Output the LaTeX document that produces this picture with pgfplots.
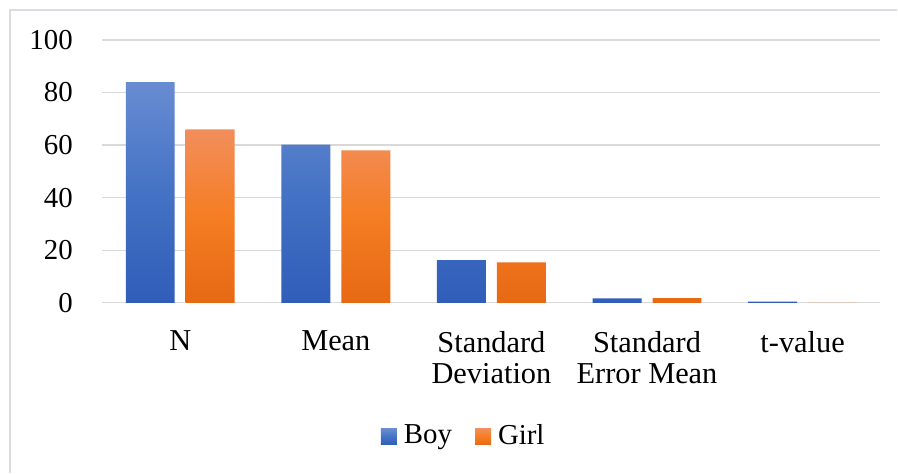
\documentclass[border=0pt]{standalone}
\usepackage{fontspec}
\setmainfont{Liberation Serif}
\usepackage{pgfplots}
\pgfplotsset{compat=1.18}
\definecolor{boyTop}{RGB}{104,140,210}
\definecolor{boyMid}{RGB}{68,114,196}
\definecolor{boyBot}{RGB}{47,93,185}
\definecolor{girlTop}{RGB}{242,142,92}
\definecolor{girlMid}{RGB}{245,125,35}
\definecolor{girlBot}{RGB}{230,105,20}
\definecolor{gridc}{RGB}{217,217,217}
\definecolor{framec}{RGB}{217,220,225}
\begin{document}
\fontsize{29}{32}\selectfont
\begin{tikzpicture}
\path[fill=white] (0,0) rectangle (898bp,473bp);
\draw[framec, line width=1.2bp] (10bp,0) -- (10bp,463bp) -- (898bp,463bp);
\begin{axis}[
  at={(102.5bp,170bp)}, anchor=south west,
  scale only axis, width=778.5bp, height=263bp,
  xmin=-0.5, xmax=4.5, ymin=0, ymax=100,
  ytick={0,20,40,60,80,100},
  xtick={0,1,2,3,4},
  xticklabels={N,Mean,Standard\\Deviation,Standard\\Error Mean,t-value},
  xticklabel style={align=center, anchor=north, inner sep=0pt, yshift=-28bp, font=\fontsize{30.5}{32}\selectfont},
  yticklabel style={anchor=east, inner sep=0pt, xshift=-29.5bp, font=\fontsize{29}{32}\selectfont},
  /pgf/number format/assume math mode=true,
  axis line style={draw=none},
  major tick length=0pt,
  ymajorgrids, major grid style={gridc, line width=1.4bp},
  legend style={at={(0.4644,-0.5095)}, anchor=center, draw=none, fill=none,
    legend columns=2, font=\fontsize{29}{32}\selectfont,
    /tikz/every odd column/.append style={column sep=0bp},
    /tikz/every even column/.append style={column sep=21bp}},
  legend image code/.code={\path[#1] (0bp,-8bp) rectangle (16bp,8bp); \path (21bp,0bp);},
]
\addplot[ybar, bar width=49bp, bar shift=-30bp, draw=none, top color=boyTop, bottom color=boyBot, middle color=boyMid]
  coordinates {(0,84) (1,60.2) (2,16.2) (3,1.7) (4,0.4)};
\addlegendentry{Boy}
\addplot[ybar, bar width=49bp, bar shift=30bp, draw=none, top color=girlTop, bottom color=girlBot, middle color=girlMid]
  coordinates {(0,66) (1,58) (2,15.4) (3,1.8) (4,0)};
\addlegendentry{Girl}
\end{axis}
\end{tikzpicture}
\end{document}
